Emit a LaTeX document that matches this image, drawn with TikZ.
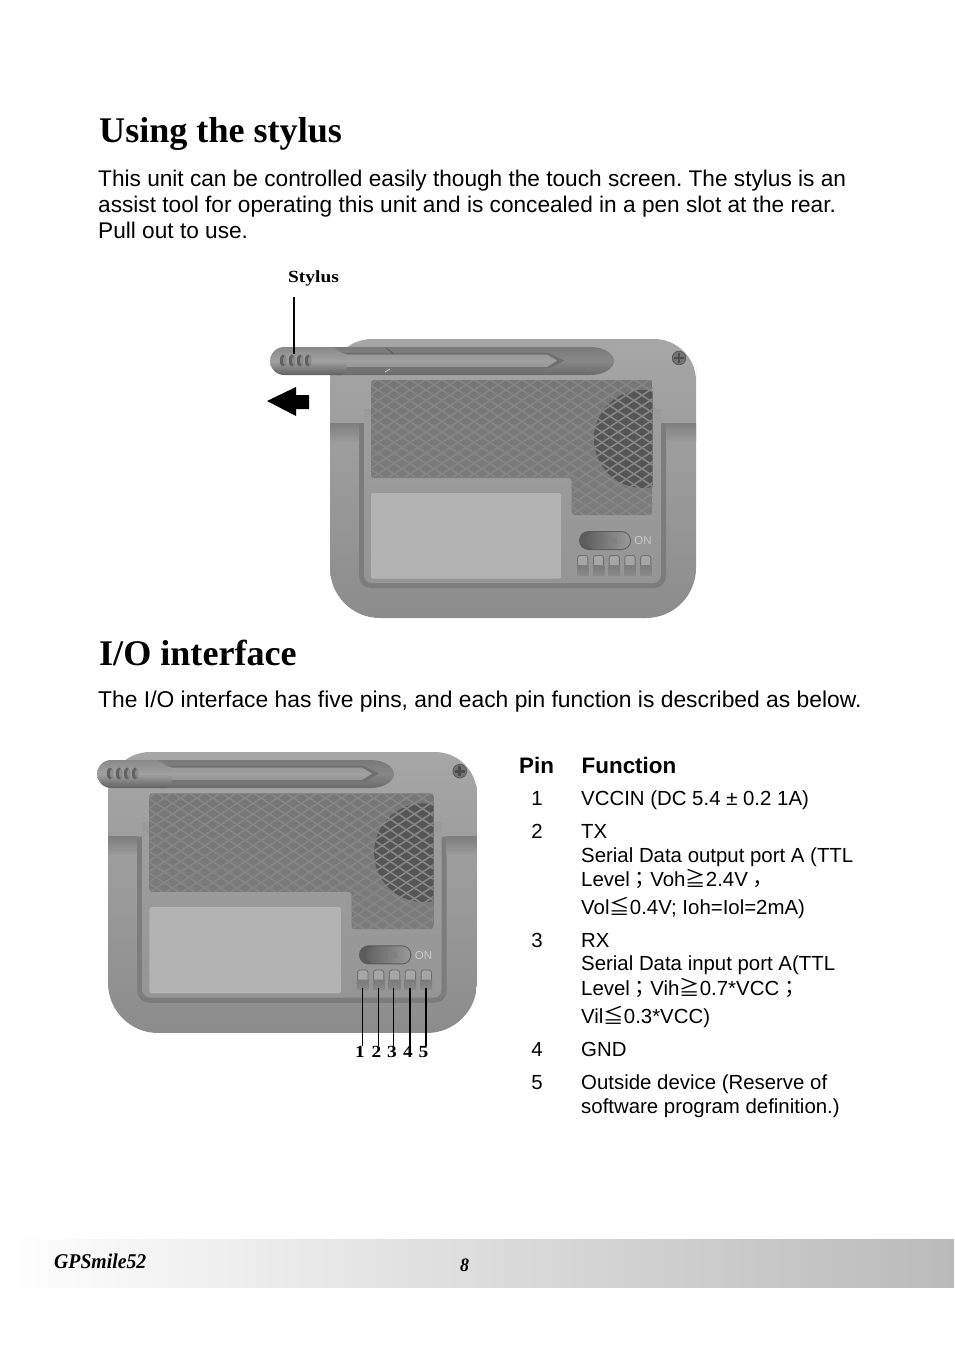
\documentclass[tikz,border=0pt]{standalone}
\usepackage{fontspec}
\setmainfont{Liberation Serif}
\setsansfont{Liberation Sans}
\newfontfamily\cjkf{Noto Sans CJK TC}
\newfontfamily\palf[FakeStretch=1.14]{Liberation Serif}
\newfontfamily\footf[FakeStretch=0.94]{Liberation Serif}
\usetikzlibrary{calc}
\definecolor{bodyTop}{HTML}{A6A6A6}
\definecolor{bodyMid}{HTML}{9A9A9A}
\definecolor{bodyBot}{HTML}{8C8C8C}
\definecolor{rimC}{HTML}{7C7C7C}
\definecolor{panelTop}{HTML}{9E9E9E}
\definecolor{panelBot}{HTML}{959595}
\definecolor{meshTop}{HTML}{777777}
\definecolor{meshBot}{HTML}{7C7C7C}
\definecolor{meshLine}{HTML}{868686}
\definecolor{speakerC}{HTML}{555555}
\definecolor{screenC}{HTML}{B3B3B3}
\definecolor{footEnd}{HTML}{BABABA}
\tikzset{
  heading/.style={anchor=base west,inner sep=0pt,font=\fontsize{36.1}{40}\selectfont\bfseries},
  para/.style={anchor=base west,inner sep=0pt,font=\sffamily\fontsize{22.65}{26}\selectfont},
  tablehead/.style={anchor=base west,inner sep=0pt,font=\sffamily\bfseries\fontsize{22.4}{26}\selectfont},
  tablecell/.style={anchor=base west,inner sep=0pt,font=\sffamily\fontsize{20.4}{24}\selectfont},
  pinno/.style={anchor=base,inner sep=0pt,font=\sffamily\fontsize{20.4}{24}\selectfont},
  calloutnum/.style={anchor=base west,inner sep=0pt,font=\palf\fontsize{17}{20}\selectfont\bfseries},
  leader/.style={draw=black,line width=1.3pt},
  footertext/.style={anchor=base west,inner sep=0pt,font=\footf\fontsize{21}{24}\selectfont\bfseries\itshape},
}
\newcommand{\devicebody}{%
  \path[top color=bodyTop,bottom color=bodyBot,middle color=bodyMid]
    (0,70) [rounded corners=42] -- (0,0) -- (366,0) -- (366,70) [sharp corners] -- (366,120)
    [rounded corners=50] -- (366,279) -- (0,279) -- (0,120) [sharp corners] -- cycle;
  % recess rim and panel
  \fill[rimC] (29,84) [rounded corners=12] -- (29,249) -- (336,249) [sharp corners] -- (336,84) -- cycle;
  \path[top color=panelTop,bottom color=panelBot] (34,84) [rounded corners=8] -- (34,244) -- (331,244) [sharp corners] -- (331,84) -- cycle;
  % side shadows under the top band
  \path[top color=black!50,bottom color=bodyMid] (0,84) rectangle (29,102);
  \path[top color=black!50,bottom color=bodyMid] (336,84) rectangle (366,102);
  \path[top color=bodyMid,bottom color=panelTop] (34,70) rectangle (331,85);
  % mesh
  \begin{scope}
    \clip (41,41) [rounded corners=3] -- (41,139) -- (241.7,139) -- (241.7,176) -- (322.7,176) -- (322.7,41) -- cycle;
    \path[top color=meshTop,bottom color=meshBot] (41,41) rectangle (323,176);
    \fill[speakerC] (313,100) circle (49);
    \foreach \i in {-20,...,40}{
      \draw[meshLine,line width=1.6pt] ($(\i*16,30)$) -- ++(256,168);
      \draw[meshLine,line width=1.6pt] ($(\i*16,30)$) -- ++(-256,168);
    }
  \end{scope}
  % screen
  \fill[screenC,rounded corners=2] (41,154) rectangle (231,239.7);
  % switch
  \fill[black!64,rounded corners=9.5] (249,192) rectangle (301,211);
  \path[left color=black!62,right color=black!40,rounded corners=8.5] (256,193) rectangle (300,210);
  \fill[black!50] (278,199) rectangle (287,205);
  \node[anchor=center,inner sep=0pt,text=black!22,font=\sffamily\fontsize{11.5}{13}\selectfont] (ontext) at (313,202) {ON};
  % buttons
  \foreach \i in {0,...,4}{
    \begin{scope}[shift={($(247,216)+(\i*15.75,0)$)}]
      \path[top color=black!52,bottom color=black!46] (0,10) rectangle (11.5,20);
      \draw[black!56,fill=black!35,line width=.9pt,rounded corners=2.5] (.6,10) -- (.6,0.5) -- (10.9,0.5) -- (10.9,10);
    \end{scope}
  }
  % screw
  \fill[black!55] (349,19) circle (7);
  \draw[black!68,line width=.6pt] (349,19) circle (6.8);
  \fill[black!70] (347.6,14) rectangle (350.4,24);
  \fill[black!70] (344,17.6) rectangle (354,20.4);
}
% stylus: #1 cap length, #2 inner tip, #3 end
\newcommand{\stylusshape}[3]{%
  \path[top color=black!52,bottom color=black!58,middle color=black!47] (#1-14,0) -- (#3-24,0) .. controls (#3-8,0) and (#3,8) .. (#3,14) .. controls (#3,20) and (#3-8,28) .. (#3-24,28) -- (#1-8,28) -- cycle;
  \fill[black!56] (#1-4,5.5) -- (#2-17,5.5) -- (#2-14,6.5) -- (#2,13.5) -- (#2-14,21.5) -- (#1-2,21.5) -- cycle;
  \path[top color=black!40,bottom color=black!42,middle color=black!37] (#1-4,7.5) -- (#2-17,7.5) -- (#2-7,13.5) -- (#2-17,20) -- (#1-4,20) -- cycle;
  \path[top color=black!46,bottom color=black!62,middle color=black!37] (14,0) .. controls (5,0) and (0,8) .. (0,14) .. controls (0,20) and (5,28) .. (14,28) -- (#1-4,28) -- (#1+2,21.5) -- (#1+2,7.5) -- (#1-4,5.5) -- (#1-12,0) -- cycle;
  \foreach \g in {13,22,30,38}{
    \fill[black!62] (\g,13.5) ellipse (3.2 and 6);
    \fill[black!45] (\g+1.6,13.5) ellipse (1.6 and 4.2);
  }
}
\begin{document}
\frenchspacing
\begin{tikzpicture}[x=1pt,y=-1pt]
\useasboundingbox (0,0) rectangle (954,1351);
\fill[white] (0,0) rectangle (954,1351);

\node[heading] (h1) at (99,143) {Using the stylus};
\node[para] (p1) at (98,186) {This unit can be controlled easily though the touch screen. The stylus is an};
\node[para] (p2) at (98,212) {assist tool for operating this unit and is concealed in a pen slot at the rear.};
\node[para] (p3) at (98,238) {Pull out to use.};

% device 1
\begin{scope}[shift={(330,339)}]\devicebody\end{scope}
\begin{scope}[shift={(270,347)}]\stylusshape{75}{294}{344}\end{scope}
\draw[black!62,line width=1pt] (386,348) -- (394,354);
\draw[black!20,line width=.8pt] (385,372) -- (390,369);
\node[calloutnum] (stylus) at (288,282) {Stylus};
\coordinate (stylusTop) at (294,297);
\coordinate (stylusEnd) at (294,354);
\draw[leader] (stylusTop) -- (stylusEnd);
\fill[black] (267,401) -- (296,387) -- (296,395) -- (309,395) -- (309,409) -- (296,409) -- (296,416) -- cycle;

\node[heading] (h2) at (99,665) {I/O interface};
\node[para,font=\sffamily\fontsize{22.85}{26}\selectfont] (p4) at (98,707) {The I/O interface has five pins, and each pin function is described as below.};

% device 2
\begin{scope}[shift={(108,752)},xscale=1.008,yscale=1.007]\devicebody\end{scope}
\begin{scope}[shift={(97,760)}]\stylusshape{73}{282}{297}\end{scope}

\node[calloutnum] (n1) at (355,1057) {1};
\node[calloutnum] (n2) at (371.5,1057) {2};
\node[calloutnum] (n3) at (387,1057) {3};
\node[calloutnum] (n4) at (403,1057) {4};
\node[calloutnum] (n5) at (418.5,1057) {5};
\foreach \k/\x in {1/362.7,2/378.3,3/393.7,4/410,5/426}{
  \coordinate (pinA\k) at (\x,988);
  \coordinate (pinB\k) at (\x,1046);
  \draw[leader] (pinA\k) -- (pinB\k);
}

% table
\node[tablehead] (th1) at (519,773) {Pin};
\node[tablehead] (th2) at (581.5,773) {Function};
\node[pinno] (r1) at (537,805) {1};
\node[tablecell] (c1) at (581,805) {VCCIN (DC 5.4 ± 0.2 1A)};
\node[pinno] (r2) at (537,838) {2};
\node[tablecell] (c2a) at (581,838) {TX};
\node[tablecell] (c2b) at (581,862) {Serial Data output port A (TTL};
\node[tablecell] (c2c) at (581,886) {Level{\cjkf ；}Voh{\cjkf ≧}2.4V{\cjkf \raisebox{-5pt}{，}}};
\node[tablecell] (c2d) at (581,914) {Vol{\cjkf ≦}0.4V; Ioh=Iol=2mA)};
\node[pinno] (r3) at (537,947) {3};
\node[tablecell] (c3a) at (581,947) {RX};
\node[tablecell] (c3b) at (581,970) {Serial Data input port A(TTL};
\node[tablecell] (c3c) at (581,995) {Level{\cjkf ；}Vih{\cjkf ≧}0.7*VCC{\cjkf ；}};
\node[tablecell] (c3d) at (581,1023) {Vil{\cjkf ≦}0.3*VCC)};
\node[pinno] (r4) at (537,1056) {4};
\node[tablecell] (c4) at (581,1056) {GND};
\node[pinno] (r5) at (537,1089) {5};
\node[tablecell] (c5a) at (581,1089) {Outside device (Reserve of};
\node[tablecell] (c5b) at (581,1113) {software program definition.)};

% footer
\path[left color=white,right color=footEnd] (0,1239) rectangle (954,1287);
\node[footertext] (f1) at (54,1268) {GPSmile52};
\node[footertext,font=\footf\fontsize{19}{22}\selectfont\bfseries\itshape] (f2) at (460,1271) {8};
\end{tikzpicture}
\end{document}
